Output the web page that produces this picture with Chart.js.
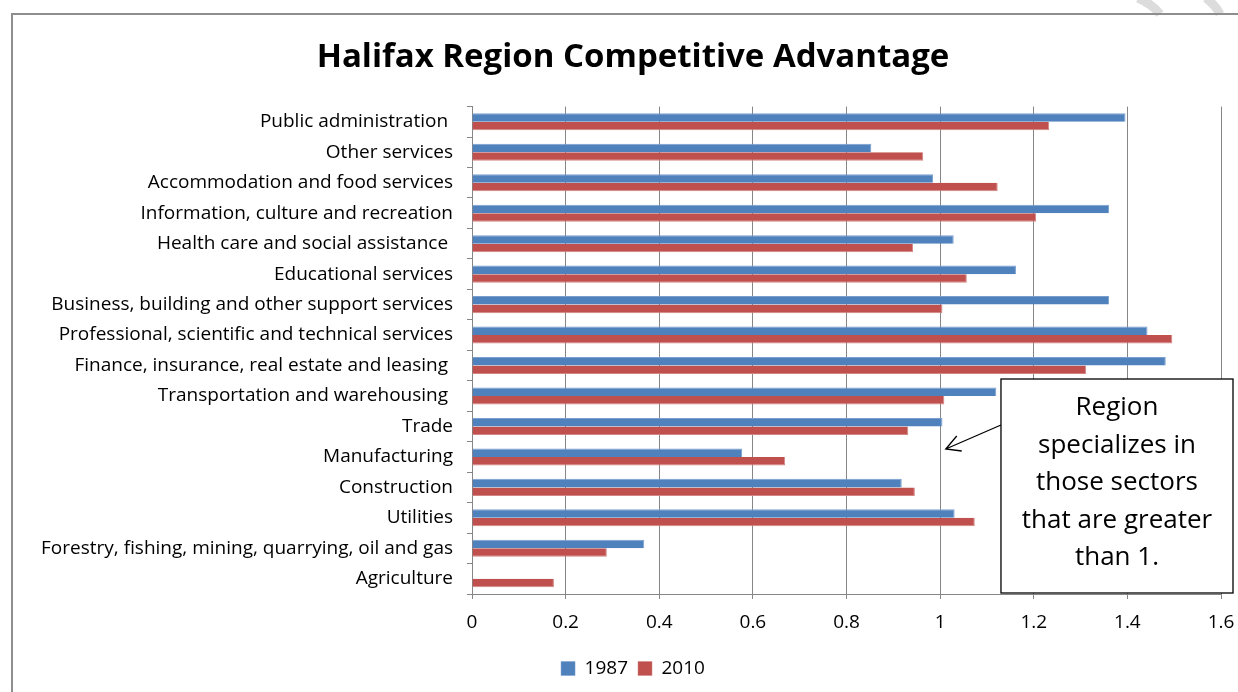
<!DOCTYPE html>
<html>
<head>
<meta charset="utf-8">
<script src="https://cdn.jsdelivr.net/npm/chart.js@4.4.0/dist/chart.umd.min.js"></script>
<style>
    body { margin: 0; background: #fff; }
    #wrap { width: 1238px; height: 692px; position: relative; }
</style>
</head>
<body>
<div id="wrap"><canvas id="halifax"></canvas></div>
<script>
const sectors = [
    'Public administration ',
    'Other services',
    'Accommodation and food services',
    'Information, culture and recreation',
    'Health care and social assistance ',
    'Educational services',
    'Business, building and other support services',
    'Professional, scientific and technical services',
    'Finance, insurance, real estate and leasing ',
    'Transportation and warehousing ',
    'Trade',
    'Manufacturing',
    'Construction',
    'Utilities',
    'Forestry, fishing, mining, quarrying, oil and gas',
    'Agriculture'
];
const values1987 = [1.396, 0.853, 0.985, 1.361, 1.029, 1.162, 1.361, 1.443, 1.482, 1.120, 1.005, 0.577, 0.918, 1.031, 0.368, 0];
const values2010 = [1.233, 0.964, 1.123, 1.205, 0.942, 1.057, 1.005, 1.496, 1.312, 1.009, 0.932, 0.669, 0.946, 1.074, 0.288, 0.175];
const seriesNames = ['1987', '2010'];
const noteLines = ['Region', 'specializes in', 'those sectors', 'that are greater', 'than 1.'];

const FONT = '"Open Sans", Lato, sans-serif';

// frame of the chart object + the faint marks above it
const framePlugin = {
    id: 'frame',
    beforeDraw(chart) {
        const c = chart.ctx;
        c.save();
        c.fillStyle = '#fff';
        c.fillRect(0, 0, chart.width, chart.height);
        c.strokeStyle = '#dcdcdc';
        c.lineWidth = 9;
        c.beginPath();
        c.moveTo(1138, -2); c.quadraticCurveTo(1152, 4, 1160, 14);
        c.moveTo(1206, -2); c.quadraticCurveTo(1216, 6, 1220, 14);
        c.stroke();
        c.strokeStyle = '#8e8e8e';
        c.lineWidth = 2;
        c.beginPath();
        c.moveTo(12, chart.height);
        c.lineTo(12, 14);
        c.lineTo(chart.width, 14);
        c.stroke();
        c.restore();
    }
};

// callout box with arrow
const notePlugin = {
    id: 'note',
    afterDraw(chart) {
        const c = chart.ctx;
        const xs = chart.scales.x, area = chart.chartArea;
        const left = xs.getPixelForValue(1.13);
        const right = area.right + 12;
        const bottom = area.bottom - 1;
        const top = bottom - 214;
        c.save();
        c.fillStyle = '#fff';
        c.fillRect(left, top, right - left, bottom - top);
        c.strokeStyle = '#000';
        c.lineWidth = 1.3;
        c.strokeRect(left, top, right - left, bottom - top);

        // arrow
        const sx = left, sy = top + 46;
        const tx = xs.getPixelForValue(1.012), ty = top + 70;
        c.beginPath();
        c.moveTo(sx, sy);
        c.lineTo(tx, ty);
        c.moveTo(tx + 11, ty - 13);
        c.lineTo(tx, ty);
        c.lineTo(tx + 16, ty + 2);
        c.stroke();

        c.fillStyle = '#000';
        c.font = '26px ' + FONT;
        c.textAlign = 'center';
        c.textBaseline = 'middle';
        const cx = (left + right) / 2;
        noteLines.forEach((line, i) => {
            c.fillText(line, cx, top + 29 + i * 37.5);
        });
        c.restore();
    }
};

new Chart(document.getElementById('halifax'), {
    type: 'bar',
    data: {
        labels: sectors,
        datasets: [
            {
                label: seriesNames[0],
                data: values1987,
                backgroundColor: '#4f81bd',
                borderColor: '#7a9fcf',
                borderWidth: { top: 1, right: 1, bottom: 0, left: 0 },
                borderSkipped: false
            },
            {
                label: seriesNames[1],
                data: values2010,
                backgroundColor: '#c0504d',
                borderColor: '#d28583',
                borderWidth: { top: 0, right: 1, bottom: 1, left: 0 },
                borderSkipped: false
            }
        ]
    },
    options: {
        indexAxis: 'y',
        responsive: true,
        maintainAspectRatio: false,
        animation: false,
        categoryPercentage: 0.56,
        barPercentage: 1.0,
        layout: {
            padding: { top: 20, right: 0, bottom: 4, left: 28 }
        },
        scales: {
            x: {
                min: 0,
                max: 1.6,
                ticks: {
                    stepSize: 0.2,
                    color: '#000',
                    padding: 12,
                    font: { family: FONT, size: 19 },
                    callback: v => Math.round(v * 10) / 10
                },
                grid: {
                    color: '#868686',
                    tickLength: 5,
                    tickColor: '#868686'
                },
                border: { color: '#868686' },
                afterFit(scale) {
                    scale.height = 55;
                    scale.paddingRight = 17;
                    scale.paddingLeft = 0;
                }
            },
            y: {
                ticks: {
                    color: '#000',
                    padding: 14,
                    font: { family: FONT, size: 19 },
                    autoSkip: false
                },
                grid: {
                    drawOnChartArea: false,
                    tickLength: 5,
                    tickColor: '#868686',
                    offset: true
                },
                border: { color: '#868686' },
                afterFit(scale) { scale.width = 444; }
            }
        },
        plugins: {
            title: {
                display: true,
                text: 'Halifax Region Competitive Advantage',
                color: '#000',
                font: { family: FONT, size: 33, weight: 'bold' },
                padding: { top: 18, bottom: 29 }
            },
            legend: {
                position: 'bottom',
                labels: {
                    color: '#000',
                    boxWidth: 14,
                    boxHeight: 14,
                    padding: 10,
                    font: { family: FONT, size: 19 }
                }
            },
            tooltip: { enabled: false }
        }
    },
    plugins: [framePlugin, notePlugin]
});
</script>
</body>
</html>
